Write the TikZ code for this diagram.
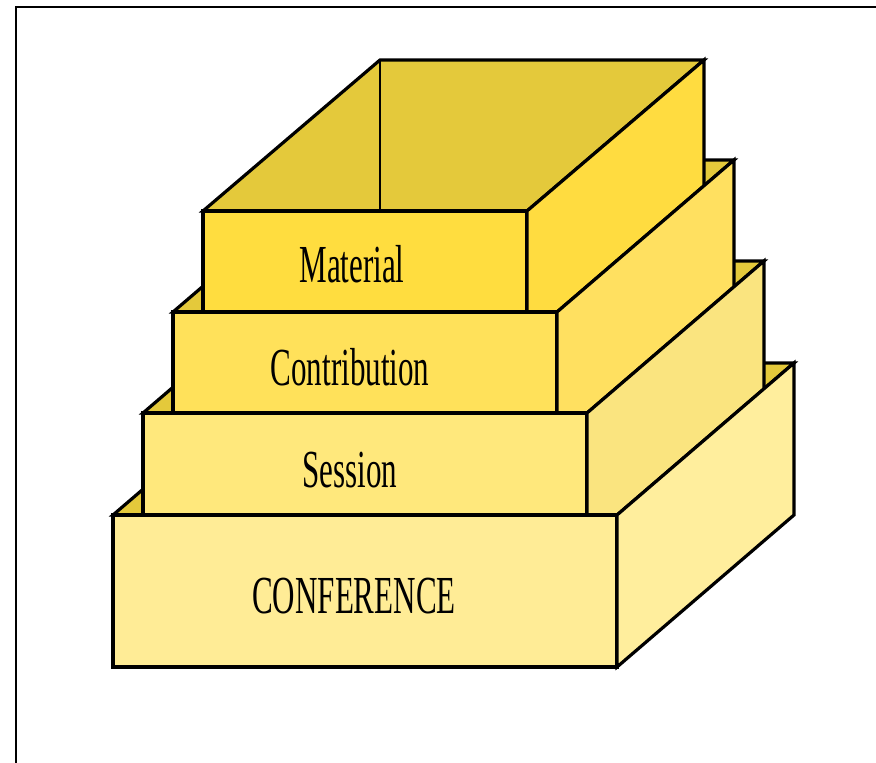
\documentclass[tikz,border=0pt]{standalone}
\usepackage{fontspec}
\setmainfont{Liberation Serif}
\usepackage{graphicx}
\definecolor{innerc}{HTML}{E4C93B}
\definecolor{matF}{HTML}{FFDD3F}
\definecolor{matR}{HTML}{FFDC40}
\definecolor{ctbF}{HTML}{FFE15A}
\definecolor{ctbR}{HTML}{FFE060}
\definecolor{sesF}{HTML}{FFE87C}
\definecolor{sesR}{HTML}{FAE47F}
\definecolor{cnfF}{HTML}{FFEC96}
\definecolor{cnfR}{HTML}{FFEE9D}
\newcommand\lblsq[1]{\scalebox{0.58}[1]{#1}}
\begin{document}
\begin{tikzpicture}[x=1pt,y=-1pt,line width=3.2pt,
  inside/.style={fill=innerc,draw=black},
  face/.style={draw=black},
  lbl/.style={anchor=base,inner sep=0pt,text=black,font=\fontsize{53.5}{60}\selectfont}]
\useasboundingbox (0,0) rectangle (876,763);
\fill[white] (0,0) rectangle (876,763);
% frame
\draw[line width=2pt] (16,763) -- (16,7) -- (876,7);
% interiors (open tops)
\filldraw[inside] (113,515) -- (617,515) -- (794,363) -- (290,363) -- cycle;
\filldraw[inside] (143,413) -- (587,413) -- (764,261) -- (320,261) -- cycle;
\filldraw[inside] (173,312) -- (557,312) -- (734,160) -- (350,160) -- cycle;
\filldraw[inside] (203,211) -- (527,211) -- (704,60) -- (380,60) -- cycle;
\draw[line width=2.2pt] (380,60) -- (380,211);
% Material
\filldraw[face,fill=matF] (203,211) rectangle (527,312);
\filldraw[face,fill=matR] (527,211) -- (704,60) -- (704,185.8) -- (557,312) -- (527,312) -- cycle;
% Contribution
\filldraw[face,fill=ctbF] (173,312) rectangle (557,413);
\filldraw[face,fill=ctbR] (557,312) -- (734,160) -- (734,286.8) -- (587,413) -- (557,413) -- cycle;
% Session
\filldraw[face,fill=sesF] (143,413) rectangle (587,515);
\filldraw[face,fill=sesR] (587,413) -- (764,261) -- (764,388.8) -- (617,515) -- (587,515) -- cycle;
% Conference
\filldraw[face,fill=cnfF] (113,515) rectangle (617,667);
\filldraw[face,fill=cnfR] (617,515) -- (794,363) -- (794,515) -- (617,667) -- cycle;
% labels
\node[lbl] (material) at (352,282) {\lblsq{Material}};
\node[lbl] (contribution) at (350,385) {\lblsq{Contribution}};
\node[lbl] (session) at (350,487) {\lblsq{Session}};
\node[lbl] (conference) at (354,613) {\lblsq{CONFERENCE}};
\end{tikzpicture}
\end{document}
